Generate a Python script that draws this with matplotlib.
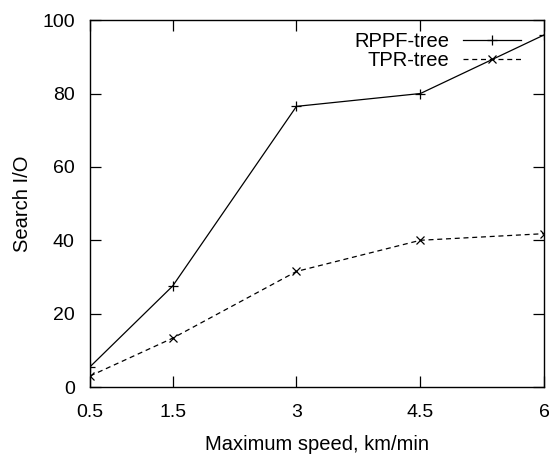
import matplotlib
matplotlib.use('Agg')
import matplotlib.pyplot as plt

# maximum speed (km/min) vs search I/O
speed = [0.5, 1.5, 3, 4.5, 6]
rppf = [5.5, 27.5, 76.5, 80, 96]
tpr = [3, 13.3, 31.5, 40, 41.8]
xtick_labels = ['0.5', '1.5', '3', '4.5', '6']

plt.rcParams['font.family'] = ['Liberation Sans', 'DejaVu Sans']

fig = plt.figure(figsize=(5.52, 4.58), dpi=100)
ax = fig.add_axes([0.163, 0.155, 0.823, 0.801])

ax.plot(speed, rppf, color='black', linestyle='-', linewidth=0.9,
        marker='+', markersize=7, markeredgewidth=0.9, label='RPPF-tree')
ax.plot(speed, tpr, color='black', linestyle=(0, (4, 3)), linewidth=0.9,
        marker='x', markersize=5.5, markeredgewidth=0.9, label='TPR-tree')

ax.set_xlim(0.5, 6)
ax.set_ylim(0, 100)
ax.set_xticks(speed)
ax.set_xticklabels(xtick_labels)
ax.set_yticks([0, 20, 40, 60, 80, 100])

ax.tick_params(direction='in', length=8, width=0.9, top=True, right=True,
               labelsize=14)
ax.tick_params(axis='x', pad=12)
ax.tick_params(axis='y', pad=11)
for spine in ax.spines.values():
    spine.set_linewidth(1.0)

ax.set_xlabel('Maximum speed, km/min', fontsize=14.5, labelpad=10)
ax.set_ylabel('Search I/O', fontsize=14.5, labelpad=7)

leg = ax.legend(loc='upper right', frameon=False, markerfirst=False,
                fontsize=14.5, handlelength=2.9, handletextpad=0.65,
                labelspacing=0.0, borderaxespad=0.0,
                bbox_to_anchor=(0.967, 0.99))
for t in leg.get_texts():
    t.set_ha('right')

fig.savefig('out.png', dpi=100)
